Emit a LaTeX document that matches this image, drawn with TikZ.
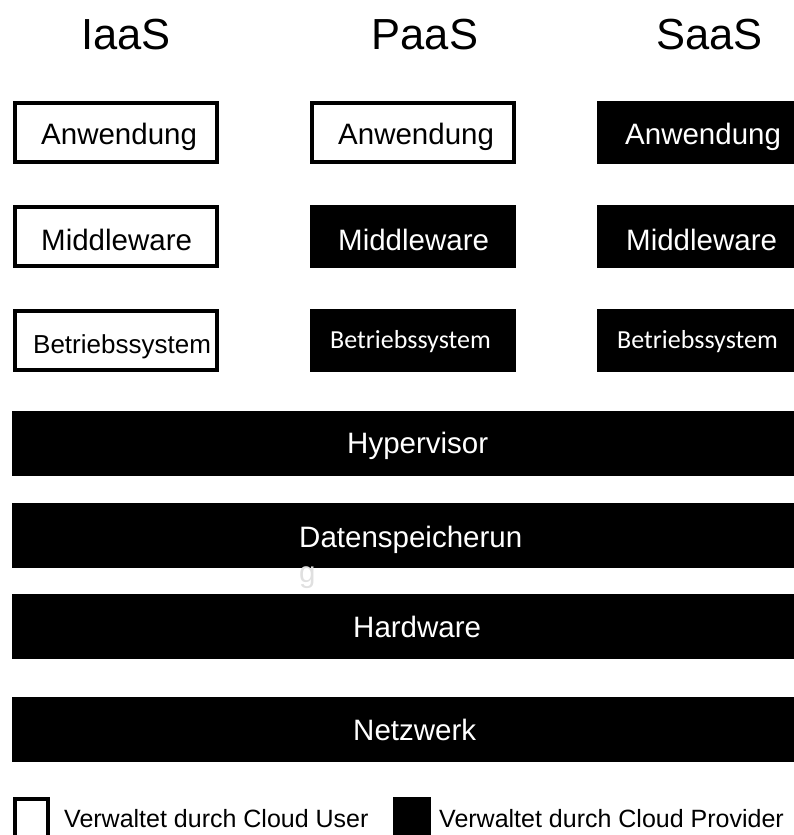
\documentclass[tikz,border=0pt]{standalone}
\usepackage{fontspec}
\setmainfont{Liberation Sans}
\newfontfamily\carlito{Carlito}
\begin{document}
\begin{tikzpicture}[x=1pt,y=-1pt,
  userbox/.style={draw=black,line width=4pt,fill=white,inner sep=0pt,
    minimum width=202pt,minimum height=59pt},
  provbox/.style={draw=none,fill=black,inner sep=0pt,
    minimum width=206pt,minimum height=63pt},
  bar/.style={draw=none,fill=black,inner sep=0pt,
    minimum width=782pt,minimum height=65pt},
  lbl/.style={inner sep=0pt,anchor=base west,font=\fontsize{29.5}{35}\selectfont},
  lblsm/.style={inner sep=0pt,anchor=base west,font=\fontsize{26}{31}\selectfont},
  lblcal/.style={inner sep=0pt,anchor=base west,font=\carlito\fontsize{26}{31}\selectfont},
  title/.style={inner sep=0pt,anchor=base,font=\fontsize{43.5}{50}\selectfont},
  legend/.style={inner sep=0pt,anchor=base west,font=\fontsize{25}{30}\selectfont}
]
\useasboundingbox (0,0) rectangle (794,835);

% column headings
\node[title] (tI) at (126,49) {IaaS};
\node[title] (tP) at (425,49) {PaaS};
\node[title] (tS) at (709.5,49) {SaaS};

% IaaS column
\node[userbox] (iA) at (116,132.5) {};
\node[userbox] (iM) at (116,236.5) {};
\node[userbox] (iB) at (116,340) {};
\node[lbl] (iAt) at (41,144.5) {Anwendung};
\node[lbl] (iMt) at (41,250.5) {Middleware};
\node[lblsm] (iBt) at (33,353) {Betriebssystem};

% PaaS column
\node[userbox] (pA) at (412.5,132.5) {};
\node[provbox] (pM) at (413,236.5) {};
\node[provbox] (pB) at (413,340) {};
\node[lbl] (pAt) at (338,144.5) {Anwendung};
\node[lbl,text=white] (pMt) at (338,250.5) {Middleware};
\node[lblcal,text=white] (pBt) at (330,348) {Betriebssystem};

% SaaS column
\node[provbox,minimum width=197pt] (sA) at (695.5,132.5) {};
\node[provbox,minimum width=197pt] (sM) at (695.5,236.5) {};
\node[provbox,minimum width=197pt] (sB) at (695.5,340) {};
\node[lbl,text=white] (sAt) at (625,144.5) {Anwendung};
\node[lbl,text=white] (sMt) at (626,250.5) {Middleware};
\node[lblcal,text=white] (sBt) at (617,348) {Betriebssystem};

% shared layers
\node[bar] (hyp) at (403,443) {};
\node[bar] (dat) at (403,535.5) {};
\node[bar] (hw)  at (403,626.5) {};
\node[bar] (net) at (403,729.5) {};
\node[lbl,text=white] (hypt) at (347,453) {Hypervisor};
\node[lbl,text=white] (datt) at (299,547) {Datenspeicherun};
\node[lbl,text=black!12] (datg) at (299,582) {g};
\node[lbl,text=white] (hwt) at (353,637) {Hardware};
\node[lbl,text=white] (nett) at (353,740) {Netzwerk};

% legend
\node[draw=black,line width=4pt,fill=white,inner sep=0pt,
  minimum width=33pt,minimum height=40pt] (kU) at (31.5,819) {};
\node[fill=black,inner sep=0pt,minimum width=38pt,minimum height=40pt] (kP) at (412,817) {};
\node[legend] (kUt) at (64,827) {Verwaltet durch Cloud User};
\node[legend] (kPt) at (439,827) {Verwaltet durch Cloud Provider};
\end{tikzpicture}
\end{document}
